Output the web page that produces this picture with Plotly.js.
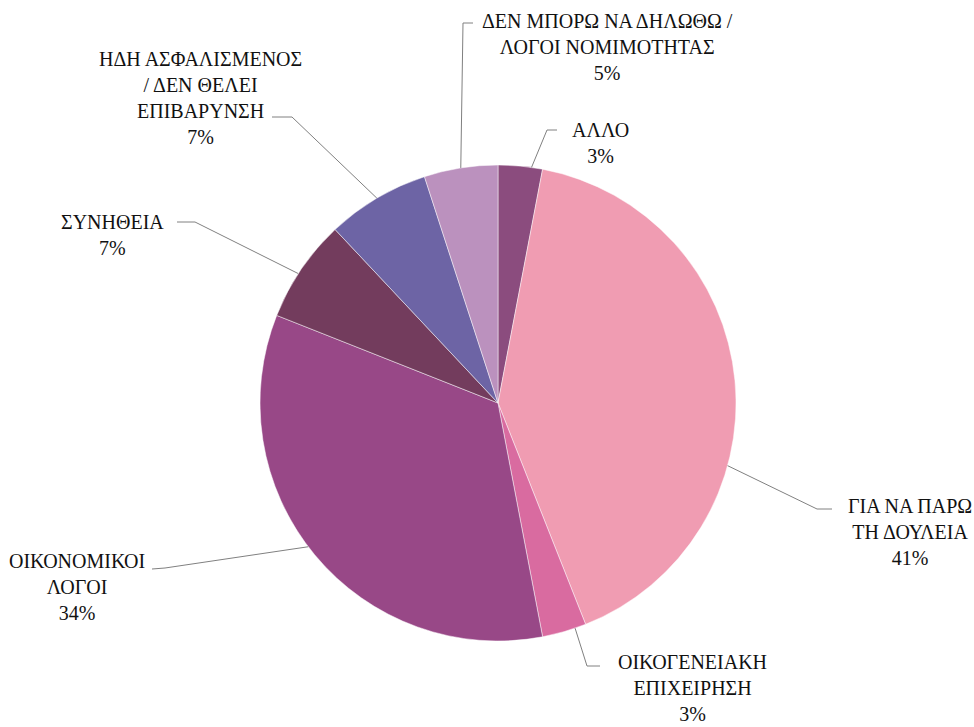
<!DOCTYPE html>
<html>
<head>
<meta charset="utf-8">
<script src="https://cdn.plot.ly/plotly-3.0.1.min.js"></script>
<style>html,body{margin:0;padding:0;background:#fff;}#chart{width:974px;height:727px;}</style>
</head>
<body>
<div id="chart"></div>
<script>
// ---- data ----
const labels = [
  "ΑΛΛΟ",
  "ΓΙΑ ΝΑ ΠΑΡΩ<br>ΤΗ ΔΟΥΛΕΙΑ",
  "ΟΙΚΟΓΕΝΕΙΑΚΗ<br>ΕΠΙΧΕΙΡΗΣΗ",
  "ΟΙΚΟΝΟΜΙΚΟΙ<br>ΛΟΓΟΙ",
  "ΣΥΝΗΘΕΙΑ",
  "ΗΔΗ ΑΣΦΑΛΙΣΜΕΝΟΣ<br>/ ΔΕΝ ΘΕΛΕΙ<br>ΕΠΙΒΑΡΥΝΣΗ",
  "ΔΕΝ ΜΠΟΡΩ ΝΑ ΔΗΛΩΘΩ /<br>ΛΟΓΟΙ ΝΟΜΙΜΟΤΗΤΑΣ"
];
const values = [3, 41, 3, 34, 7, 7, 5];
const colors = ["#8B4C7E", "#F09CB2", "#D96BA0", "#984887", "#733C5D", "#6D64A5", "#BB91BE"];

// ---- layout (styling / placement, in pixels) ----
const W = 974, H = 727;
const CX = 498, CY = 403, R = 238;
// label block centre (px), leader elbow and leader end (px), attach fraction within slice
const labelPos = [[600, 143], [910, 532], [692, 688], [77, 587], [112, 235], [200, 98], [607, 47]];
const elbows   = [[547, 130], [817, 509], [587, 666], [165, 568], [195, 222], [292, 117], [463, 23]];
const ends     = [[557, 130], [832, 509], [600, 666], [152, 569], [177, 222], [272, 117], [473, 23]];
const attach   = [0.75, 0.64, 0.25, 0.52, 0.45, 0.5, 0.5];

const px = x => x / W, py = y => 1 - y / H;
const total = values.reduce((a, b) => a + b, 0);

const annotations = [], shapes = [];
let cum = 0;
values.forEach((v, i) => {
  const frac = (cum + v * attach[i]) / total;
  cum += v;
  const th = frac * 2 * Math.PI;
  const ax = CX + R * Math.sin(th), ay = CY - R * Math.cos(th);
  const pct = Math.round(v / total * 100) + "%";
  annotations.push({
    xref: "paper", yref: "paper", x: px(labelPos[i][0]), y: py(labelPos[i][1]),
    xanchor: "center", yanchor: "middle", align: "center", showarrow: false,
    text: labels[i] + "<br>" + pct,
    font: {family: "Liberation Serif, serif", size: 20, color: "#111"}
  });
  shapes.push({
    type: "path", xref: "paper", yref: "paper",
    path: `M ${px(ax)} ${py(ay)} L ${px(elbows[i][0])} ${py(elbows[i][1])} L ${px(ends[i][0])} ${py(ends[i][1])}`,
    line: {color: "#808080", width: 1}
  });
});

const trace = {
  type: "pie", values: values, labels: labels,
  sort: false, direction: "clockwise", rotation: 0,
  marker: {colors: colors, line: {color: "rgba(255,255,255,0.6)", width: 0.8}},
  textinfo: "none", hoverinfo: "none",
  domain: {x: [px(CX - R), px(CX + R)], y: [py(CY + R), py(CY - R)]}
};

const layout = {
  width: W, height: H, margin: {l: 0, r: 0, t: 0, b: 0},
  paper_bgcolor: "#fff", plot_bgcolor: "#fff", showlegend: false,
  annotations: annotations, shapes: shapes
};
Plotly.newPlot("chart", [trace], layout, {displayModeBar: false, staticPlot: true});
</script>
</body>
</html>
